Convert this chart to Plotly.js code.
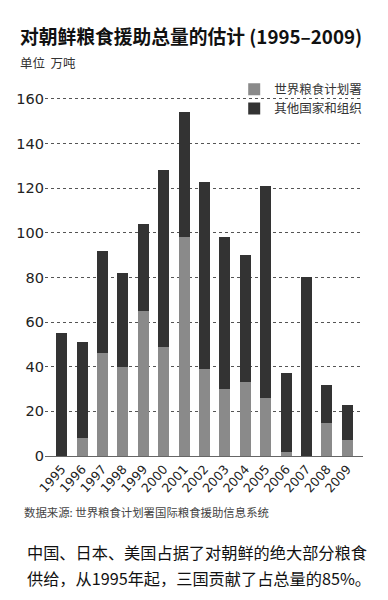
<!DOCTYPE html>
<html>
<head>
<meta charset="utf-8">
<script src="https://cdn.plot.ly/plotly-3.0.1.min.js"></script>
<style>html,body{margin:0;padding:0;background:#fff;}#chart{width:388px;height:600px;}</style>
</head>
<body>
<div id="chart"></div>
<script>
const years = ['1995','1996','1997','1998','1999','2000','2001','2002','2003','2004','2005','2006','2007','2008','2009'];
const wfp = [0, 8, 46, 40, 65, 49, 98, 39, 30, 33, 26, 2, 0, 15, 7];
const others = [55, 43, 46, 42, 39, 79, 56, 84, 68, 57, 95, 35, 80, 17, 16];
const seriesNames = ['世界粮食计划署', '其他国家和组织'];
const yTicks = [0, 20, 40, 60, 80, 100, 120, 140, 160];

const FONT = '"Noto Sans CJK SC", "Noto Sans", sans-serif';
const NUMFONT = '"DejaVu Sans", "Noto Sans", sans-serif';

const traces = [
  {type:'bar', x: years, y: wfp, name: seriesNames[0], marker:{color:'#8a8a8a'}},
  {type:'bar', x: years, y: others, name: seriesNames[1], marker:{color:'#333333'}}
];

const layout = {
  width: 388, height: 600,
  margin: {l: 45, r: 25, t: 80, b: 144},
  paper_bgcolor: '#fff', plot_bgcolor: '#fff',
  barmode: 'stack', bargap: 0.46,
  font: {family: FONT, color: '#222'},
  showlegend: true,
  legend: {x: 0.595, y: 1.014, xanchor: 'left', yanchor: 'top', font: {size: 12.5, color: '#333'}, traceorder: 'normal', bgcolor: 'rgba(0,0,0,0)', itemwidth: 30, tracegroupgap: 0},
  xaxis: {
    type: 'category', range: [-0.82, 14.77], tickangle: -48, tickfont: {size: 12.5, color: '#222', family: NUMFONT},
    showline: true, linecolor: '#666', linewidth: 1, ticks: '', showgrid: false
  },
  yaxis: {
    range: [0, 168.5], tickvals: yTicks, ticktext: yTicks.map(String),
    tickfont: {size: 14.5, color: '#222', family: NUMFONT}, showgrid: true, gridcolor: '#555', gridwidth: 1,
    griddash: '3px,3px', zeroline: false, showline: false, ticks: ''
  },
  annotations: [
    {text: '<b>对朝鲜粮食援助总量的估计 (1995–2009)</b>', xref: 'paper', yref: 'paper', x: -0.085, y: 1.0, xanchor: 'left', yanchor: 'middle',
     yshift: 45, showarrow: false, font: {size: 18.75, color: '#111', family: FONT}},
    {text: '单位  万吨', xref: 'paper', yref: 'paper', x: -0.085, y: 1.0, xanchor: 'left', yanchor: 'middle',
     yshift: 18, showarrow: false, font: {size: 12.5, color: '#333', family: FONT}},
    {text: '数据来源: 世界粮食计划署国际粮食援助信息系统', xref: 'paper', yref: 'paper', x: -0.073, y: 0, xanchor: 'left', yanchor: 'middle',
     yshift: -56, showarrow: false, font: {size: 11.4, color: '#444', family: FONT}},
    {text: '中国、日本、美国占据了对朝鲜的绝大部分粮食', xref: 'paper', yref: 'paper', x: -0.063, y: 0, xanchor: 'left', yanchor: 'middle',
     yshift: -96, showarrow: false, font: {size: 16.2, color: '#111', family: FONT}},
    {text: '供给，从1995年起，三国贡献了占总量的85%。', xref: 'paper', yref: 'paper', x: -0.063, y: 0, xanchor: 'left', yanchor: 'middle',
     yshift: -122, showarrow: false, font: {size: 16.2, color: '#111', family: FONT}}
  ]
};

Plotly.newPlot('chart', traces, layout, {displayModeBar: false, staticPlot: true});
</script>
</body>
</html>
